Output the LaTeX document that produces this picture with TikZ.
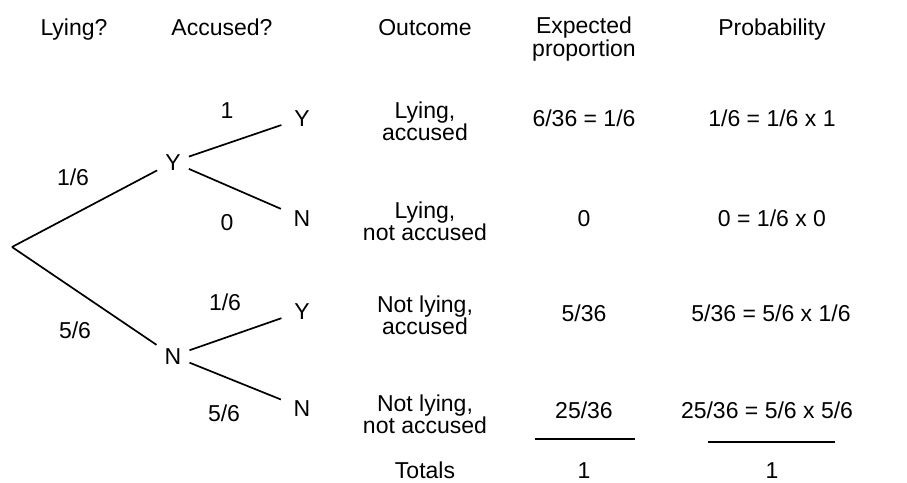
\documentclass[tikz,border=0pt]{standalone}
\usepackage{fontspec}
\setmainfont{Liberation Sans}
\begin{document}
\begin{tikzpicture}[x=1pt,y=-1pt,
  every node/.style={font=\fontsize{23}{21}\selectfont, inner sep=0pt},
  one/.style={text height=16pt, text depth=0pt},
  txt/.style={align=center},
  tnode/.style={one, inner sep=8pt},
  branch/.style={line width=1.7pt},
  rule/.style={line width=1.7pt}]
\useasboundingbox (0,0) rectangle (907,482);
% headers
\node[one] (h1) at (74,27) {Lying?};
\node[one] (h2) at (222,27) {Accused?};
\node[one] (h3) at (425,27) {Outcome};
\node[txt] (h4) at (584,39) {Expected\\proportion};
\node[one] (h5) at (772,27) {Probability};
% tree
\coordinate (root) at (12,247);
\node[tnode] (Y) at (173,162) {Y};
\node[tnode] (N) at (173,356) {N};
\node[tnode] (YY) at (302,118) {Y};
\node[tnode] (YN) at (302,218) {N};
\node[tnode] (NY) at (302,311) {Y};
\node[tnode] (NN) at (302,408) {N};
\draw[branch] (root) -- (Y);
\draw[branch] (root) -- (N);
\draw[branch, shorten >=5pt] (Y) -- (YY);
\draw[branch, shorten >=5pt] (Y) -- (YN);
\draw[branch, shorten >=5pt] (N) -- (NY);
\draw[branch, shorten >=5pt] (N) -- (NN);
% branch labels
\node[one] (l1) at (73,177) {1/6};
\node[one] (l2) at (75,330) {5/6};
\node[one] (l3) at (227,110) {1};
\node[one] (l4) at (227,222) {0};
\node[one] (l5) at (225,302) {1/6};
\node[one] (l6) at (224,413) {5/6};
% outcomes
\node[txt] (o1) at (425,121) {Lying,\\accused};
\node[txt] (o2) at (425,221) {Lying,\\not accused};
\node[txt] (o3) at (425,315) {Not lying,\\accused};
\node[txt] (o4) at (425,414) {Not lying,\\not accused};
\node[one] (o5) at (425,470) {Totals};
% expected
\node[one] (e1) at (584,118) {6/36 = 1/6};
\node[one] (e2) at (584,218) {0};
\node[one] (e3) at (584,313) {5/36};
\node[one] (e4) at (584,410) {25/36};
\node[one] (e5) at (584,470) {1};
\coordinate (ea) at (535,439);
\coordinate (eb) at (635,439);
\draw[rule] (ea) -- (eb);
% probability
\node[one] (p1) at (772,118) {1/6 = 1/6 x 1};
\node[one] (p2) at (772,218) {0 = 1/6 x 0};
\node[one] (p3) at (771,313) {5/36 = 5/6 x 1/6};
\node[one] (p4) at (767,410) {25/36 = 5/6 x 5/6};
\node[one] (p5) at (772,470) {1};
\coordinate (pa) at (708,442);
\coordinate (pb) at (835,442);
\draw[rule] (pa) -- (pb);
\end{tikzpicture}
\end{document}
